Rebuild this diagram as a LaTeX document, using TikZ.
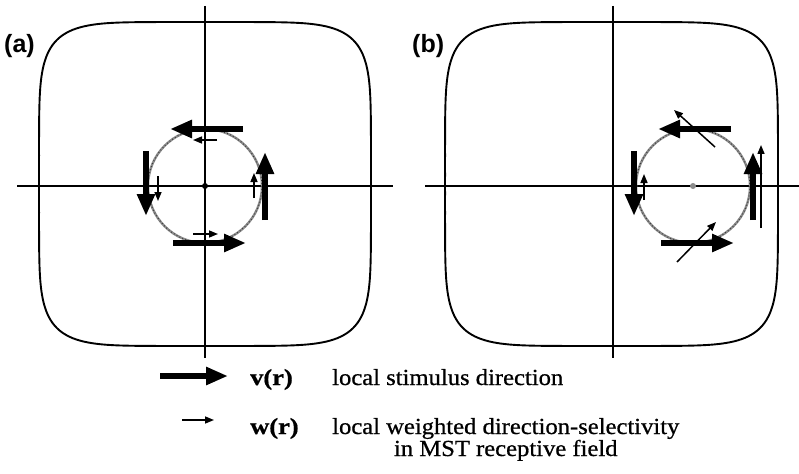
\documentclass[tikz,border=0pt]{standalone}
\usepackage{fontspec}
\setmainfont{Liberation Serif}
\newfontfamily\legfont{Liberation Serif}[FakeBold=0.7]
\newfontfamily\labfont{Liberation Sans}
\usetikzlibrary{arrows.meta,calc}
\begin{document}
\begin{tikzpicture}[x=1pt,y=-1pt,
  frame/.style={line width=1.9pt},
  axis/.style={line width=1.2pt},
  ring/.style={line width=2.4pt,black!45},
  ringdots/.style={line width=1.1pt,black!80,dash pattern=on 0.8pt off 2.4pt},
  varrow/.style={line width=6.5pt,-{Triangle[length=22pt,width=17pt]}},
  warrow/.style={line width=1.5pt,-{Triangle[length=9pt,width=7pt]}},
  lab/.style={font=\labfont\bfseries\fontsize{25}{25}\selectfont,inner sep=0pt},
  leg/.style={font=\legfont\fontsize{23}{20}\selectfont,inner sep=0pt}]
\useasboundingbox (0,0) rectangle (799,473);
% ---------- panel (a)
\draw[frame] plot[domain=0:360,samples=361,variable=\t]
  ({205+166*cos(\t)/(abs(cos(\t))^6+abs(sin(\t))^6)^(1/6)},
   {184+162*sin(\t)/(abs(cos(\t))^6+abs(sin(\t))^6)^(1/6)}) -- cycle;
\draw[axis] (17,186) -- (393,186);
\draw[axis] (205,6) -- (205,358);
\node[lab,anchor=west] (la) at (4,46) {(a)};
\begin{scope}[shift={(205,186)}]
  \draw[ring] (0,0) circle[radius=57];
  \draw[ringdots] (0,0) circle[radius=57];
  \fill (0,0) circle[radius=3];
  \draw[varrow] (38,-57) -- (-35,-57);
  \draw[varrow] (-59,-35) -- (-59,30);
  \draw[varrow] (-32,57) -- (41,57);
  \draw[varrow] (60,34) -- (60,-34);
  \draw[warrow] (12,-46) -- (-12,-46);
  \draw[warrow] (-12,48) -- (13,48);
  \draw[warrow] (-47,-10) -- (-47,15);
  \draw[warrow] (49,12) -- (49,-13);
\end{scope}
% ---------- panel (b)
\draw[frame] plot[domain=0:360,samples=361,variable=\t]
  ({611.5+166.5*cos(\t)/(abs(cos(\t))^6+abs(sin(\t))^6)^(1/6)},
   {184+162*sin(\t)/(abs(cos(\t))^6+abs(sin(\t))^6)^(1/6)}) -- cycle;
\draw[axis] (425,186) -- (799,186);
\draw[axis] (613,6) -- (613,358);
\node[lab,anchor=west] (lb) at (412,46) {(b)};
\begin{scope}[shift={(693,186)}]
  \draw[ring] (0,0) circle[radius=57];
  \draw[ringdots] (0,0) circle[radius=57];
  \fill[black!45] (0,0) circle[radius=3];
  \draw[varrow] (38,-57) -- (-35,-57);
  \draw[varrow] (-59,-35) -- (-59,30);
  \draw[varrow] (-32,57) -- (41,57);
  \draw[varrow] (60,34) -- (60,-34);
  \draw[warrow] (22,-39) -- (-19,-76);
  \draw[warrow] (-16,76) -- (23,36);
  \draw[warrow] (-49,14) -- (-49,-12);
  \draw[warrow] (68,42) -- (68,-41);
\end{scope}
% ---------- legend
\coordinate (v0) at (160,376);
\coordinate (v1) at (228,376);
\draw[varrow] (v0) -- (v1);
\coordinate (w0) at (182,420);
\coordinate (w1) at (214,420);
\draw[warrow] (w0) -- (w1);
\node[leg,anchor=base west] (vr) at (250,385) {\scalebox{1.15}[1]{\bfseries v(r)}};
\node[leg,anchor=base west] (vt) at (332,385) {\scalebox{1.07}[1]{local stimulus direction}};
\node[leg,anchor=base west] (wr) at (250,434) {\scalebox{1.15}[1]{\bfseries w(r)}};
\node[leg,anchor=base west] (wt) at (332,434) {\scalebox{1.07}[1]{local weighted direction-selectivity}};
\node[leg,anchor=base] (wt2) at ($(wt.base)+(0,22)$) {\scalebox{1.07}[1]{in MST receptive field}};
\end{tikzpicture}
\end{document}
